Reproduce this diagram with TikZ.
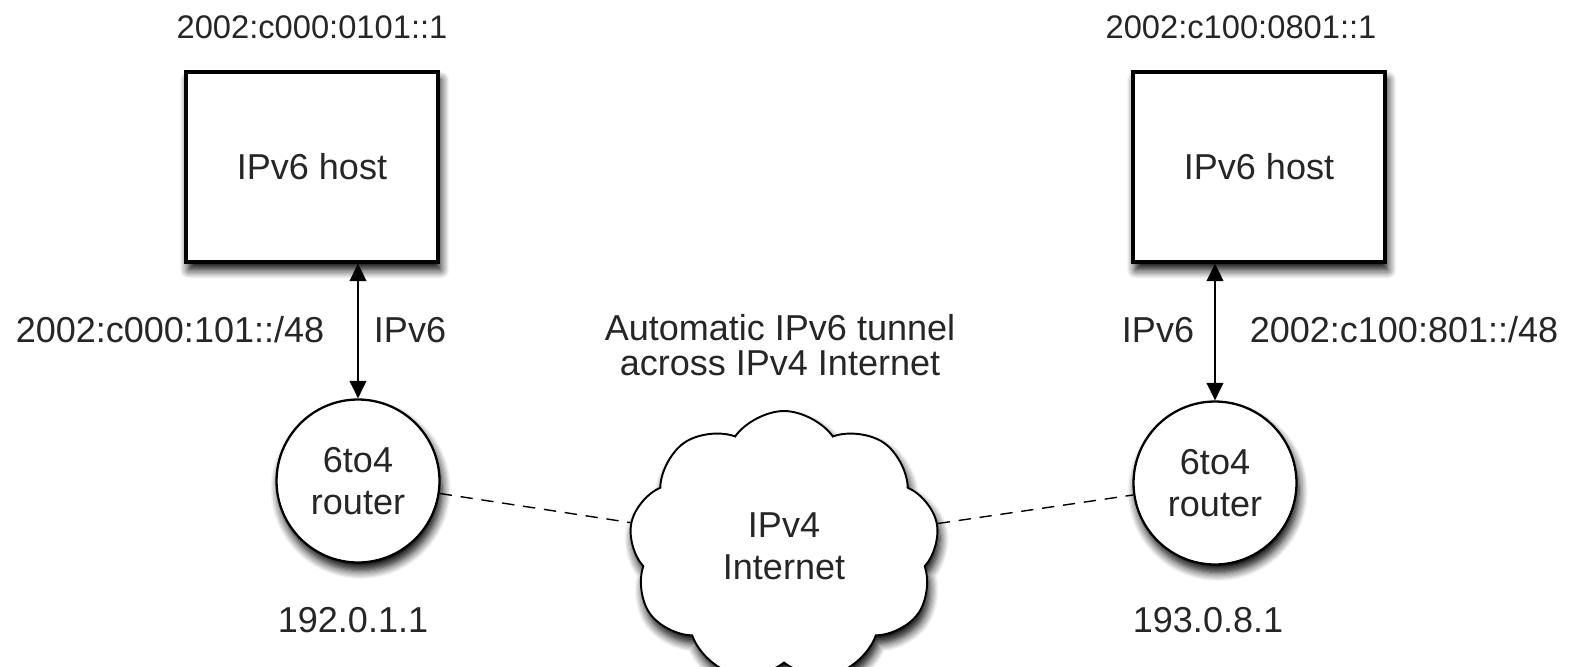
\documentclass[tikz,border=0pt]{standalone}
\usepackage{fontspec}
\setmainfont{Liberation Sans}
\usetikzlibrary{shapes.symbols,shadows.blur,arrows.meta}

\begin{document}
\begin{tikzpicture}[
  x=0.02cm, y=-0.02cm,
  every node/.style={font=\fontsize{20.5}{19.5}\selectfont, text=black!85},
  soft/.style={blur shadow={shadow xshift=1.5pt, shadow yshift=-4.5pt, shadow blur radius=5pt,
    shadow blur steps=8, shadow opacity=100}},
  host/.style={draw, line width=1.8pt, fill=white, minimum width=5.04cm, minimum height=3.8cm, soft},
  router/.style={draw, circle, line width=1.3pt, fill=white, minimum size=3.26cm, align=center,
    font=\fontsize{20.5}{23.8}\selectfont, soft},
  net/.style={draw, cloud, cloud puffs=9, cloud puff arc=110, line width=1.1pt, fill=white,
    minimum width=6.2cm, minimum height=5.4cm, align=center, font=\fontsize{20.5}{23.8}\selectfont, soft},
  link/.style={line width=1.3pt, {Triangle[width=9.5pt,length=10pt]}-{Triangle[width=9.5pt,length=10pt]}},
  tunnel/.style={dash pattern=on 7pt off 5pt, line width=0.8pt},
  addr/.style={font=\fontsize{18.6}{19.5}\selectfont},
]
  \useasboundingbox (0,0) rectangle (1572,666);

  % hosts and routers
  \node[host] (lhost) at (312,167) {IPv6 host};
  \node[host] (rhost) at (1259,167) {IPv6 host};
  \node[router] (lrouter) at (358,481) {6to4\\router};
  \node[router] (rrouter) at (1215,483) {6to4\\router};
  \node[net] (inet) at (784,546) {IPv4\\Internet};

  % connections
  \draw[link] (lrouter.north |- lhost.south) -- (lrouter.north);
  \draw[link] (rrouter.north |- rhost.south) -- (rrouter.north);
  \draw[tunnel] (lrouter) -- (inet);
  \draw[tunnel] (inet) -- (rrouter);

  % addresses
  \node[addr] (laddr) at (312,27) {2002:c000:0101::1};
  \node[addr] (raddr) at (1241,27) {2002:c100:0801::1};
  \node (lnet) at (170,330) {2002:c000:101::/48};
  \node (lproto) at (410,330) {IPv6};
  \node (rproto) at (1158,330) {IPv6};
  \node (rnet) at (1404,330) {2002:c100:801::/48};
  \node[align=center] (tlabel) at (780,345) {Automatic IPv6 tunnel\\across IPv4 Internet};
  \node (lv4) at (353,620) {192.0.1.1};
  \node (rv4) at (1208,620) {193.0.8.1};
\end{tikzpicture}
\end{document}
